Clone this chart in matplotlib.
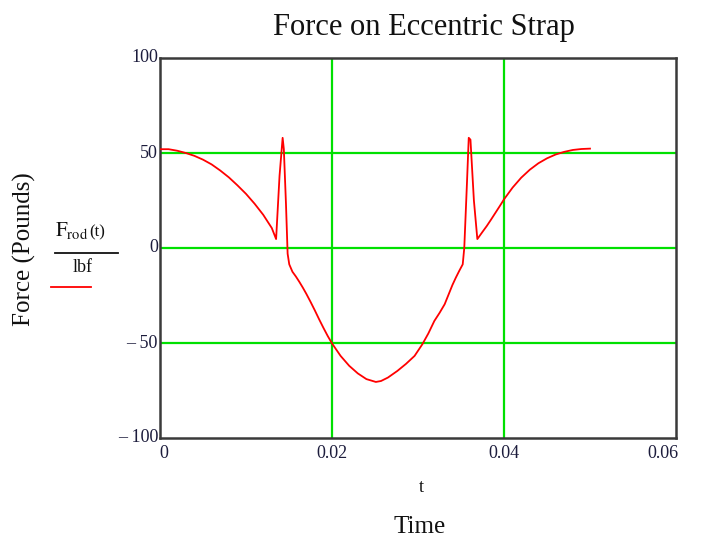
import matplotlib
matplotlib.use("Agg")
import matplotlib.pyplot as plt

# Time samples (s) and strap force (lbf)
t_vals = [0.0, 0.001, 0.002, 0.003, 0.004, 0.005, 0.006, 0.007, 0.008, 0.009,
          0.010, 0.011, 0.012, 0.013, 0.0135, 0.0139, 0.01426, 0.0144, 0.01465,
          0.01484, 0.01503, 0.0154, 0.0158, 0.0162, 0.0166, 0.017, 0.0175,
          0.018, 0.0185, 0.019, 0.0195, 0.020, 0.021, 0.022, 0.023, 0.024,
          0.0251, 0.0257, 0.0265, 0.0276, 0.0286, 0.0296, 0.0305, 0.0312,
          0.0319, 0.0325, 0.0331, 0.0336, 0.0340, 0.0344, 0.0348, 0.0352,
          0.03538, 0.0357, 0.0359, 0.0361, 0.0365, 0.0369, 0.0375, 0.038,
          0.0385, 0.039, 0.0395, 0.040, 0.041, 0.042, 0.043, 0.044, 0.045,
          0.046, 0.047, 0.048, 0.049, 0.050]
force_vals = [52.0, 52.0, 51.2, 50.0, 48.5, 46.5, 44.0, 40.8, 37.2, 33.0,
              28.5, 23.3, 17.5, 10.5, 4.7, 38.0, 58.0, 52.0, 23.0,
              -3.0, -8.6, -12.5, -15.0, -17.8, -20.8, -24.0, -28.3,
              -32.8, -37.5, -42.0, -46.3, -50.2, -56.8, -62.0, -66.0, -69.0,
              -70.5, -70.0, -68.2, -64.7, -61.0, -56.8, -50.7, -45.0,
              -38.4, -34.2, -29.6, -24.0, -19.5, -15.6, -12.0, -8.6,
              0.0, 35.0, 58.0, 57.0, 25.0, 4.7, 8.5, 11.6,
              15.0, 18.5, 22.0, 25.6, 31.8, 37.0, 41.2, 44.6, 47.2,
              49.2, 50.6, 51.6, 52.1, 52.3]

x_ticks = [0, 0.02, 0.04, 0.06]
x_tick_labels = ["0", "0.02", "0.04", "0.06"]
y_ticks = [-100, -50, 0, 50, 100]
y_tick_labels = ["\u2013 100", "\u2013 50", "0", "50", "100"]

W, H = 702, 542
fig = plt.figure(figsize=(W / 100, H / 100), dpi=100)
fig.patch.set_facecolor("white")

serif = ["Liberation Serif", "DejaVu Serif"]
tick_color = "#1c1c3c"

def fx(px):
    return px / W

def fy(py):
    return 1 - py / H

ax = fig.add_axes([fx(160), fy(438), fx(676) - fx(160), fy(58) - fy(438)])
ax.set_xlim(0, 0.06)
ax.set_ylim(-100, 100)

# green grid at the interior ticks
for xv in x_ticks[1:-1]:
    ax.axvline(xv, color="#00e000", lw=1.6, zorder=1)
for yv in y_ticks[1:-1]:
    ax.axhline(yv, color="#00e000", lw=1.6, zorder=1)

ax.plot(t_vals, force_vals, color="#ff0000", lw=1.3, zorder=3)

for s in ax.spines.values():
    s.set_color("#3a3a3a")
    s.set_linewidth(1.8)
ax.set_xticks([])
ax.set_yticks([])

# x tick labels below the frame
for xv, lab in zip(x_ticks, x_tick_labels):
    px = 160 + xv / 0.06 * (676 - 160)
    ha = "center"
    if xv == x_ticks[0]:
        ha, px = "left", px - 1
    elif xv == x_ticks[-1]:
        ha, px = "right", px + 2
    fig.text(fx(px), fy(454), lab, ha=ha, va="center", fontsize=13,
             family=serif, color=tick_color)

# y tick labels left of the frame
for yv, lab in zip(y_ticks, y_tick_labels):
    py = 438 - (yv + 100) / 200 * (438 - 58)
    fig.text(fx(158), fy(py), lab, ha="right", va="center", fontsize=13,
             family=serif, color=tick_color)

fig.text(fx(424), fy(28), "Force on Eccentric Strap", ha="center", va="center",
         fontsize=22, family=serif, color="#111111")
fig.text(fx(421), fy(487), "t", ha="center", va="center", fontsize=13,
         family=serif, color="#111111")
fig.text(fx(420), fy(527), "Time", ha="center", va="center", fontsize=18,
         family=serif, color="#111111")
fig.text(fx(24), fy(249), "Force (Pounds)", ha="center", va="center",
         rotation=90, fontsize=18, family=serif, color="#111111")

# legend entry: F_rod(t) / lbf with red sample line
plt.rcParams["mathtext.fontset"] = "stix"
fig.text(fx(55), fy(236), r"$\mathrm{F_{rod}}$", ha="left", va="baseline",
         fontsize=15, color="#111111")
fig.text(fx(89), fy(236), "(t)", ha="left", va="baseline", fontsize=12,
         family=serif, color="#111111")
fig.add_artist(plt.Line2D([fx(55), fx(118)], [fy(253), fy(253)],
                          color="#111111", lw=1.3))
fig.text(fx(83), fy(268), "lbf", ha="center", va="center", fontsize=13,
         family=serif, color="#111111")
fig.add_artist(plt.Line2D([fx(51), fx(91)], [fy(287), fy(287)],
                          color="#ff0000", lw=1.3))

fig.savefig("out.png", dpi=100)
